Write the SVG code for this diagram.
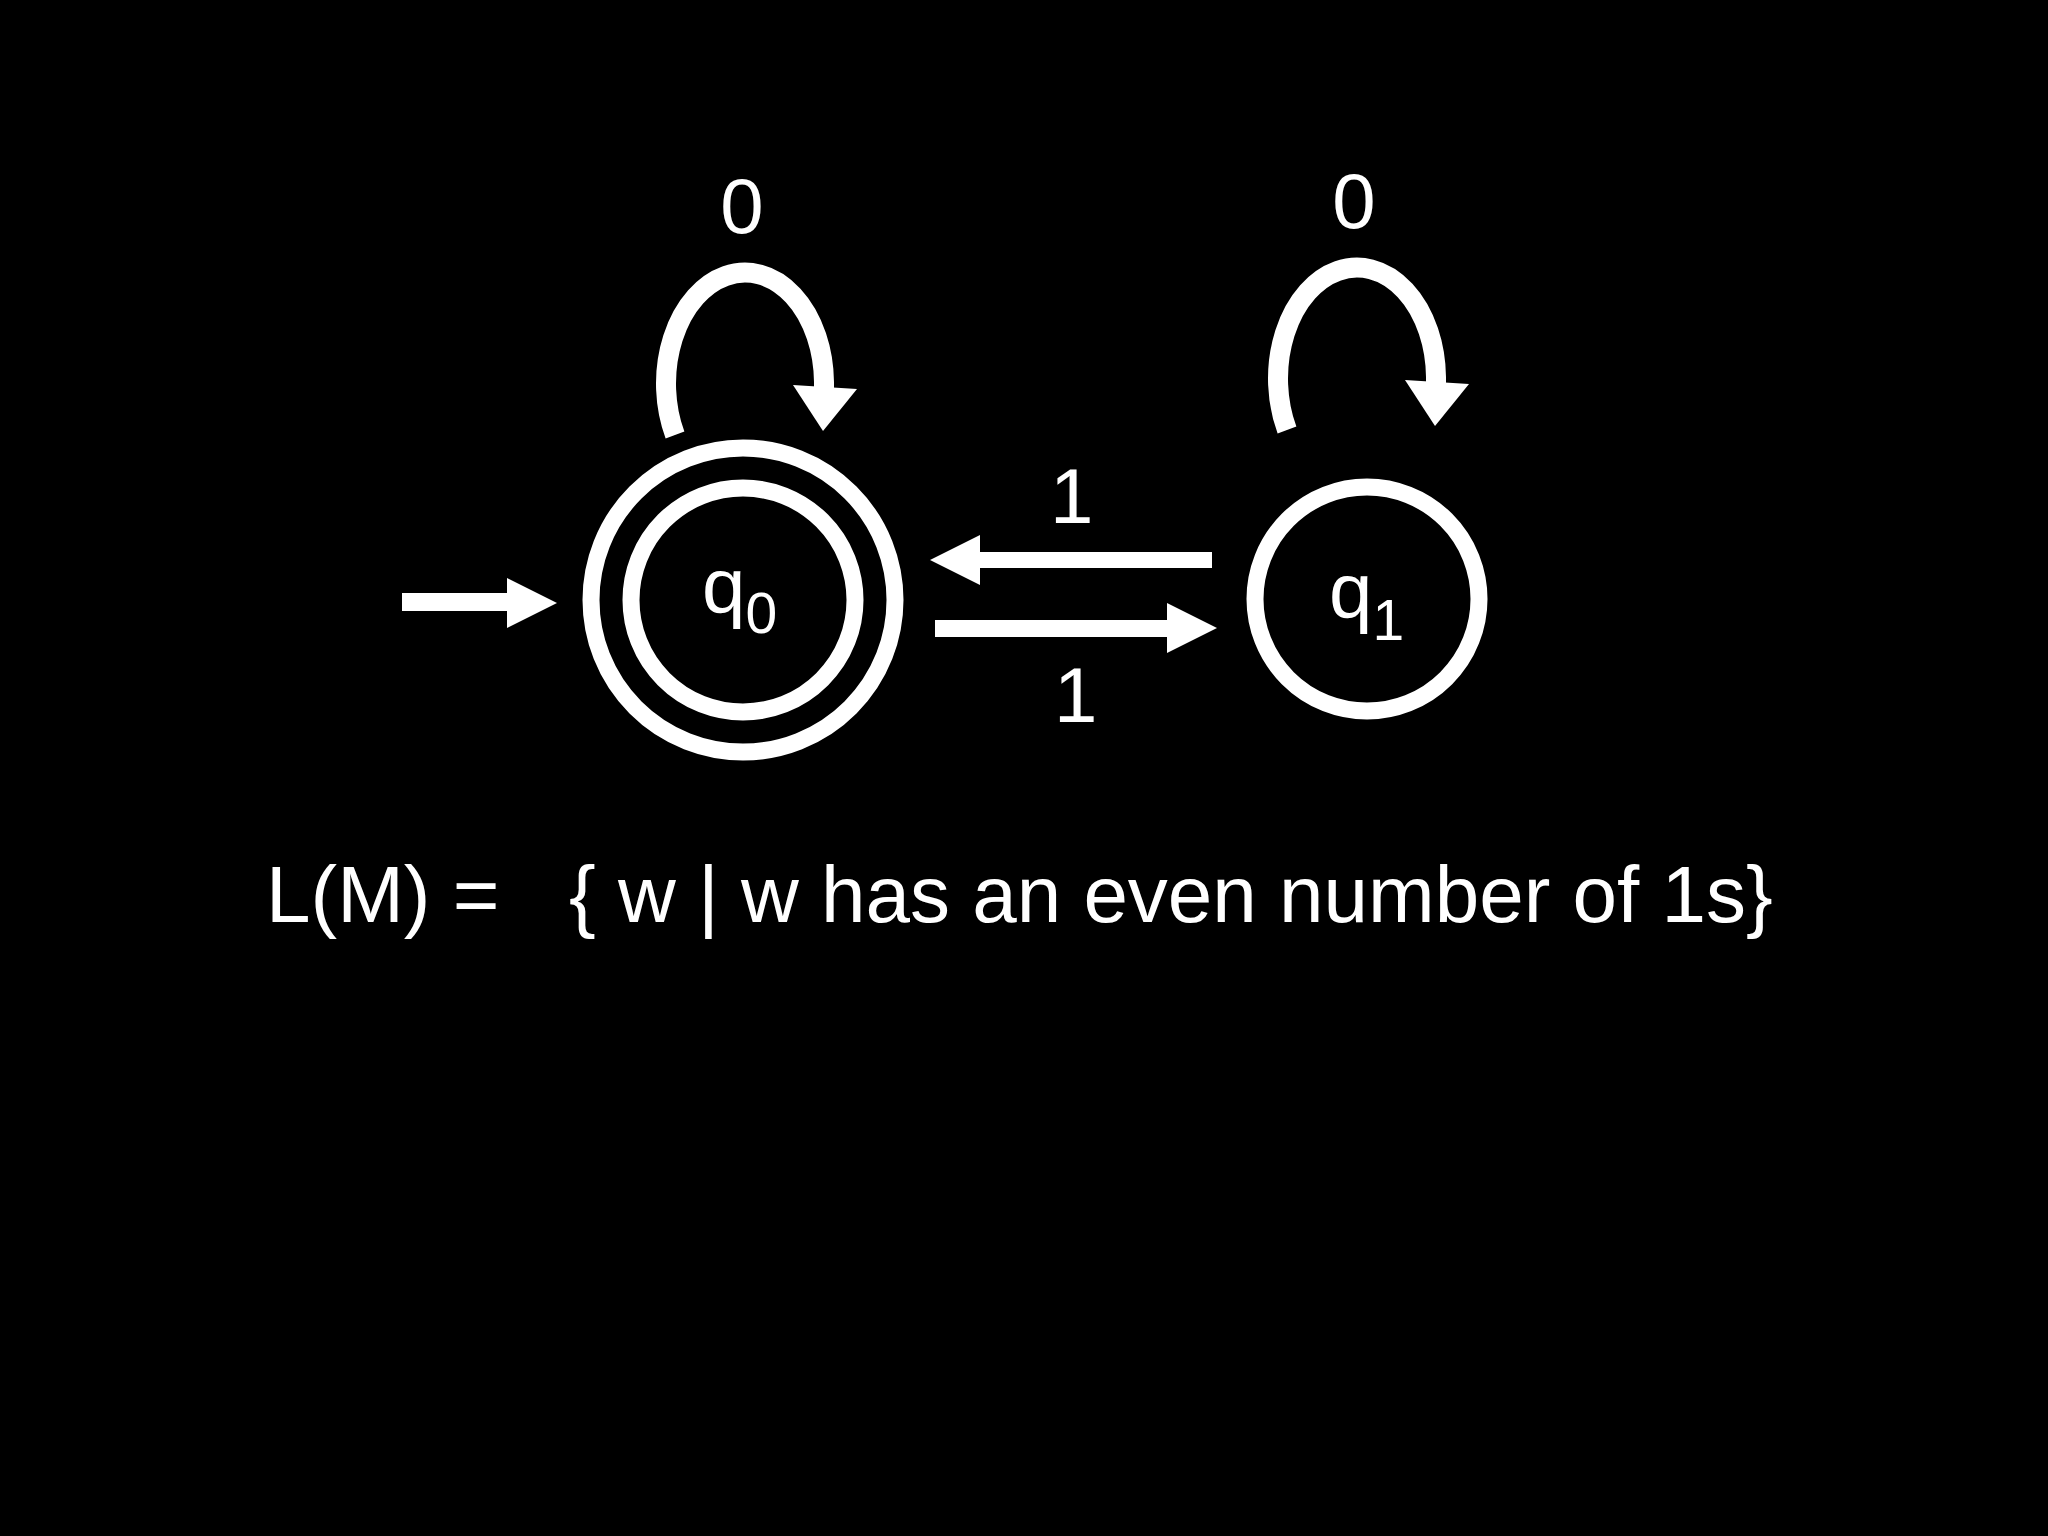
<svg xmlns="http://www.w3.org/2000/svg" width="2048" height="1536" viewBox="0 0 2048 1536">
<style>
.t{font-family:"Liberation Sans",Arial,Helvetica,sans-serif;fill:#fff}
.ring{fill:none;stroke:#fff;stroke-width:17}
.loop{fill:none;stroke:#fff;stroke-width:20}
.head{fill:#fff}
</style>
<rect width="2048" height="1536" fill="#000"/>
<g id="q0">
<circle class="ring" cx="743" cy="600" r="152"/>
<circle class="ring" cx="743" cy="600" r="112"/>
<text class="t" x="702" y="613" font-size="78">q<tspan font-size="57" dy="20">0</tspan></text>
</g>
<g id="q1">
<circle class="ring" cx="1367" cy="599" r="112"/>
<text class="t" x="1329" y="618" font-size="78">q<tspan font-size="57" dy="22">1</tspan></text>
</g>
<g id="connectors">
<path id="start" class="head" d="M402,593 L507,593 L507,578 L557,603 L507,628 L507,611 L402,611 Z"/>
<g id="loop0">
<path class="loop" d="M675,435 A79,111 0 1 1 824,382 L824,389"/>
<polygon class="head" points="793,385 857,389 823,431"/>
</g>
<g id="loop1" transform="translate(612,-5)">
<path class="loop" d="M675,435 A79,111 0 1 1 824,382 L824,389"/>
<polygon class="head" points="793,385 857,389 823,431"/>
</g>
<path id="q1-q0" class="head" d="M1212,552 L980,552 L980,535 L930,560 L980,585 L980,568 L1212,568 Z"/>
<path id="q0-q1" class="head" d="M935,620 L1167,620 L1167,603 L1217,628 L1167,653 L1167,637 L935,637 Z"/>
</g>
<g id="labels">
<text class="t" x="742" y="233" font-size="78" text-anchor="middle">0</text>
<text class="t" x="1354" y="228" font-size="78" text-anchor="middle">0</text>
<text class="t" x="1050" y="523" font-size="78">1</text>
<text class="t" x="1054" y="722" font-size="78">1</text>
</g>
<g id="language">
<text class="t" x="266" y="922" font-size="80">L(M) =</text>
<text class="t" x="569" y="922" font-size="80">{ w | w has an even number of 1s}</text>
</g>
</svg>
